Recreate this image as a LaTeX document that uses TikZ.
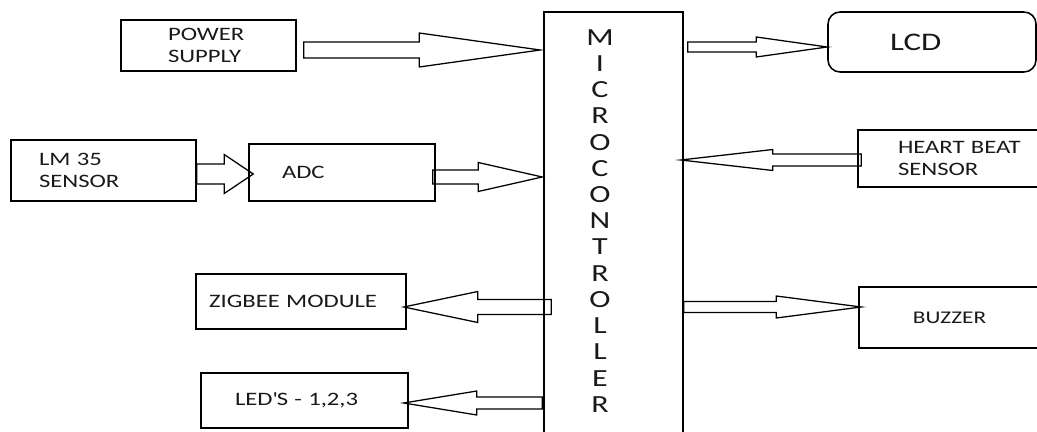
\documentclass[tikz,border=0pt]{standalone}
\usepackage{fontspec}
\setmainfont{Carlito}[FakeStretch=1.3]
\usetikzlibrary{calc}

\newlength{\px}
\setlength{\px}{0.025cm}

% hollow block arrow: tail anchor, tail offset, tip anchor, tip dx, shaft half, head half, head length
\newcommand{\fatarrow}[7]{%
	\coordinate (ft) at ($(#1)+(#2)$);
	\coordinate (fh) at ($(#3 |- ft)+(#4,0)$);
	\draw[fat] ($(ft)+(0,#5)$) -- ($(fh)+(#7,#5)$) -- ($(fh)+(#7,#6)$) -- (fh)
		-- ($(fh)+(#7,-#6)$) -- ($(fh)+(#7,-#5)$) -- ($(ft)+(0,-#5)$) -- cycle;}

\begin{document}
\begin{tikzpicture}[x=0.025cm, y=-0.025cm,
			every node/.style={font=\fontsize{13.5}{15.5}\selectfont, text=black!90},
			blk/.style={draw=black, line width=1.1pt, inner sep=0pt, align=left},
			rblk/.style={blk, rounded corners=12\px},
			fat/.style={draw=black, line width=0.9pt}]
			\useasboundingbox (0,0) rectangle (1037,432);
			\node[blk, text width=81\px, minimum width=175\px, minimum height=51\px] (ps) at (208.5,45.5) {POWER\\SUPPLY};
			\node[blk, text width=129\px, minimum width=185\px, minimum height=61\px] (lm) at (103.5,170.5) {LM 35\\SENSOR};
			\node[blk, text width=120\px, minimum width=186\px, minimum height=57\px] (adc) at (342,172.5) {ADC\\[-4pt]};
			\node[blk, minimum width=139\px, minimum height=440\px] (mc) at (613.5,232) {};
			\node[anchor=north, align=center, inner sep=0pt, font=\fontsize{17.5}{18.64}\selectfont] (mctxt) at ($(mc.north)+(-13.5,18)$)
				{M\\I\\C\\R\\O\\C\\O\\N\\T\\R\\O\\L\\L\\E\\R};
			\node[rblk, text width=84\px, minimum width=208\px, minimum height=60\px, font=\fontsize{18}{20}\selectfont] (lcd) at (932,42) {LCD};
			\node[blk, text width=150\px, minimum width=230\px, minimum height=57\px] (hb) at (973,158.5) {HEART BEAT\\SENSOR};
			\node[blk, text width=184\px, minimum width=210\px, minimum height=55\px] (zb) at (301,301.5) {ZIGBEE MODULE};
			\node[blk, text width=139\px, minimum width=207\px, minimum height=55\px] (led) at (304.5,400.5) {LED\textquotesingle S - 1,2,3};
			\node[blk, align=center, minimum width=181\px, minimum height=61\px, font=\fontsize{12.7}{15}\selectfont] (bz) at (949.5,317.5) {BUZZER};
			% arrows into the controller
			\fatarrow{ps.east}{7,4.5}{mc.west}{-3}{8}{17}{-121}
			\fatarrow{lm.east}{0,3.5}{adc.west}{5}{10}{19.5}{-29}
			\fatarrow{adc.east}{-3,4.5}{mc.west}{-1}{7}{14.5}{-64}
			\fatarrow{hb.west}{4,1.5}{mc.east}{-3}{6}{10.5}{92}
			% arrows out of the controller
			\fatarrow{mc.east |- lcd.west}{4,5}{lcd.west}{0}{5}{10}{-71}
			\fatarrow{mc.west |- zb.east}{8,5.5}{zb.east}{-3}{7.5}{15.5}{74}
			\fatarrow{mc.west |- led.east}{-1,2.5}{led.east}{-5}{6}{12}{73}
			\fatarrow{mc.east |- bz.west}{0,-10.5}{bz.west}{3}{5.5}{11}{-85}
		\end{tikzpicture}
\end{document}
